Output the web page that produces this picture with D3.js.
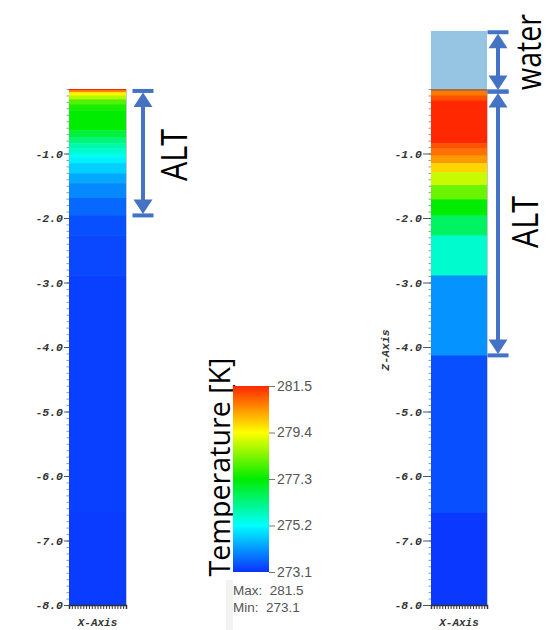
<!DOCTYPE html>
<html><head><meta charset="utf-8">
<script src="https://cdn.jsdelivr.net/npm/d3@7"></script>
<style>html,body{margin:0;padding:0;background:#fff;}svg{display:block;}</style>
</head><body>
<svg id="c" width="557" height="630"></svg>
<script>
// ---------- data ----------
const zTicks = [-1, -2, -3, -4, -5, -6, -7, -8];
const cbTicks = [273.1, 275.2, 277.3, 279.4, 281.5];
const cbColors = ["#0a30ff", "#00ffff", "#00ec00", "#ffff00", "#ff2800"];
// left column: layer top depths (m below surface) and temperatures (K)
const leftDepthTop = [0, 0.02, 0.05, 0.10, 0.16, 0.24, 0.33, 0.64, 0.75, 0.84, 0.92, 1.00, 1.06, 1.15, 1.31, 1.46, 1.69, 1.96, 2.27, 2.89, 6.57];
const leftTemp     = [281.5, 280.6, 279.5, 278.8, 278.0, 277.5, 277.3, 276.8, 276.3, 275.9, 275.6, 275.35, 275.05, 274.72, 274.32, 273.99, 273.67, 273.42, 273.34, 273.26, 273.22];
// right column (with standing water)
const rightDepthTop = [0, 0.10, 0.18, 0.84, 0.92, 1.03, 1.15, 1.29, 1.49, 1.71, 1.96, 2.27, 2.89, 4.13, 6.57];
const rightTemp     = [280.7, 281.1, 281.5, 281.1, 280.8, 280.4, 279.8, 278.95, 278.17, 277.3, 276.5, 275.6, 274.1, 273.42, 273.18];
const columnBottom = 8.0;
const waterLevel = 0.9;          // m above surface
const leftALT = 1.96;            // active layer thickness
const rightALT = 4.13;

// ---------- setup ----------
const svg = d3.select("#c");
const y = d3.scaleLinear().domain([0, -8]).range([89, 605]);
const color = d3.scaleLinear().domain(cbTicks).range(cbColors);
const blue = "#4472c4";
const monoFont = "'Liberation Mono', 'DejaVu Sans Mono', monospace";

function drawColumn(x0, x1, depthTop, temps, tickSize, showZ) {
  const g = svg.append("g");
  const layers = depthTop.map((d, i) => ({
    top: d, bottom: i < depthTop.length - 1 ? depthTop[i + 1] : columnBottom, t: temps[i]
  }));
  g.selectAll("rect.layer").data(layers).enter().append("rect")
    .attr("class", "layer")
    .attr("x", x0).attr("width", x1 - x0)
    .attr("y", d => y(-d.top))
    .attr("height", d => y(-d.bottom) - y(-d.top) + 0.5)
    .attr("fill", d => color(d.t));
  // right edge
  g.append("line").attr("x1", x1 + 0.5).attr("x2", x1 + 0.5)
    .attr("y1", y(0)).attr("y2", y(-columnBottom)).attr("stroke", "#c8c8c8");

  // minor ticks
  const minor = d3.range(0, 81).map(i => -i / 10);
  const minorAx = d3.axisLeft(y).tickValues(minor).tickSize(2.5).tickFormat("");
  const gm = g.append("g").attr("transform", `translate(${x0},0)`).call(minorAx);
  gm.select(".domain").remove();
  gm.selectAll("line").attr("stroke", "#999");

  // major ticks
  const ax = d3.axisLeft(y).tickValues(zTicks).tickSize(tickSize).tickPadding(1)
    .tickFormat(d => d.toFixed(1));
  const ga = g.append("g").attr("transform", `translate(${x0},0)`).call(ax);
  ga.select(".domain").remove();
  ga.selectAll("line").attr("stroke", "#555");
  ga.selectAll("text").attr("font-family", monoFont).attr("font-weight", "bold")
    .attr("font-style", "italic").attr("font-size", 11.5).attr("fill", "#333");

  // x axis comb
  const x = d3.scaleLinear().domain([0, 1]).range([x0, x1]);
  const xa = d3.axisBottom(x).tickValues(d3.range(0, 1.0001, 0.05)).tickSize(4).tickFormat("");
  const gx = g.append("g").attr("transform", `translate(0,${y(-columnBottom)})`).call(xa);
  gx.select(".domain").attr("stroke", "#333").attr("stroke-width", 1.5);
  gx.selectAll("line").attr("stroke", "#333");
  g.append("text").attr("x", (x0 + x1) / 2).attr("y", 626)
    .attr("text-anchor", "middle").attr("font-family", monoFont)
    .attr("font-weight", "bold").attr("font-style", "italic").attr("font-size", 11)
    .attr("fill", "#333").text("X-Axis");
  if (showZ) {
    g.append("text").attr("transform", `translate(389,350) rotate(-90)`)
      .attr("text-anchor", "middle").attr("font-family", monoFont)
      .attr("font-weight", "bold").attr("font-style", "italic").attr("font-size", 11.5)
      .attr("fill", "#333").text("Z-Axis");
  }
  return g;
}

drawColumn(69, 126, leftDepthTop, leftTemp, 5, false);
drawColumn(431, 487, rightDepthTop, rightTemp, 8, true);

// water block
svg.append("rect").attr("x", 431).attr("width", 56)
  .attr("y", y(waterLevel)).attr("height", y(0) - y(waterLevel))
  .attr("fill", "#96c4e3");
svg.append("line").attr("x1", 431).attr("x2", 487).attr("y1", y(0) + 1).attr("y2", y(0) + 1)
  .attr("stroke", "#9a6a4a").attr("stroke-width", 2).attr("opacity", 0.8);

// ---------- arrows ----------
function dimArrow(xc, d0, d1) {
  const y0 = y(d0), y1 = y(d1);
  const g = svg.append("g").attr("fill", blue).attr("stroke", "none");
  const capW = 21, capH = 4, headW = 19, headH = 15;
  g.append("rect").attr("x", xc - capW / 2).attr("y", y0 - capH / 2).attr("width", capW).attr("height", capH);
  g.append("rect").attr("x", xc - capW / 2).attr("y", y1 - capH / 2).attr("width", capW).attr("height", capH);
  g.append("rect").attr("x", xc - 2).attr("y", y0 + headH).attr("width", 4).attr("height", Math.max(0, y1 - y0 - 2 * headH));
  g.append("path").attr("d", `M${xc},${y0 + 1.5} L${xc - headW / 2},${y0 + headH + 1} L${xc + headW / 2},${y0 + headH + 1} Z`);
  g.append("path").attr("d", `M${xc},${y1 - 1.5} L${xc - headW / 2},${y1 - headH - 1} L${xc + headW / 2},${y1 - headH - 1} Z`);
}
dimArrow(143, -0.03, -leftALT);
dimArrow(498, waterLevel - 0.02, -0.04);
dimArrow(498, -0.04, -rightALT);

const bigFont = "'Open Sans', 'Noto Sans', sans-serif";
function rotText(xb, yc, txt, size, len) {
  svg.append("text").attr("transform", `translate(${xb},${yc}) rotate(-90)`)
    .attr("text-anchor", "middle").attr("font-family", bigFont).attr("font-size", size)
    .attr("fill", "#000").attr("textLength", len).attr("lengthAdjust", "spacingAndGlyphs")
    .text(txt);
}
rotText(187, 155, "ALT", 36, 52);
rotText(538, 222, "ALT", 36, 52);
rotText(541, 52, "water", 34, 76);
rotText(230, 467, "Temperature [K]", 30, 219);

// ---------- colour bar ----------
const cy = d3.scaleLinear().domain([273.1, 281.5]).range([572, 386]);
const defs = svg.append("defs");
const grad = defs.append("linearGradient").attr("id", "cbg")
  .attr("x1", 0).attr("y1", 1).attr("x2", 0).attr("y2", 0);
grad.selectAll("stop").data(cbTicks).enter().append("stop")
  .attr("offset", d => (d - 273.1) / (281.5 - 273.1))
  .attr("stop-color", d => color(d));
svg.append("rect").attr("x", 226).attr("y", 580).attr("width", 7).attr("height", 50).attr("fill", "#f3f3f3");
svg.append("rect").attr("x", 233).attr("y", cy(281.5)).attr("width", 36)
  .attr("height", cy(273.1) - cy(281.5)).attr("fill", "url(#cbg)");
const cax = d3.axisRight(cy).tickValues(cbTicks).tickSize(6).tickPadding(2).tickFormat(d => d.toFixed(1));
const gc = svg.append("g").attr("transform", "translate(269,0)").call(cax);
gc.select(".domain").remove();
gc.selectAll("line").attr("stroke", "#777");
gc.selectAll("text").attr("font-family", "'Liberation Sans', Arial, sans-serif")
  .attr("font-size", 14).attr("fill", "#555");
const stats = [["Max:", 281.5], ["Min:", 273.1]];
svg.selectAll("text.stat").data(stats).enter().append("text").attr("class", "stat")
  .attr("x", 233).attr("y", (d, i) => 595 + i * 17)
  .attr("font-family", "'Liberation Sans', Arial, sans-serif").attr("font-size", 13.5)
  .attr("fill", "#555").attr("xml:space", "preserve").style("white-space", "pre")
  .text(d => `${d[0]}  ${d[1].toFixed(1)}`);
</script>
</body></html>
